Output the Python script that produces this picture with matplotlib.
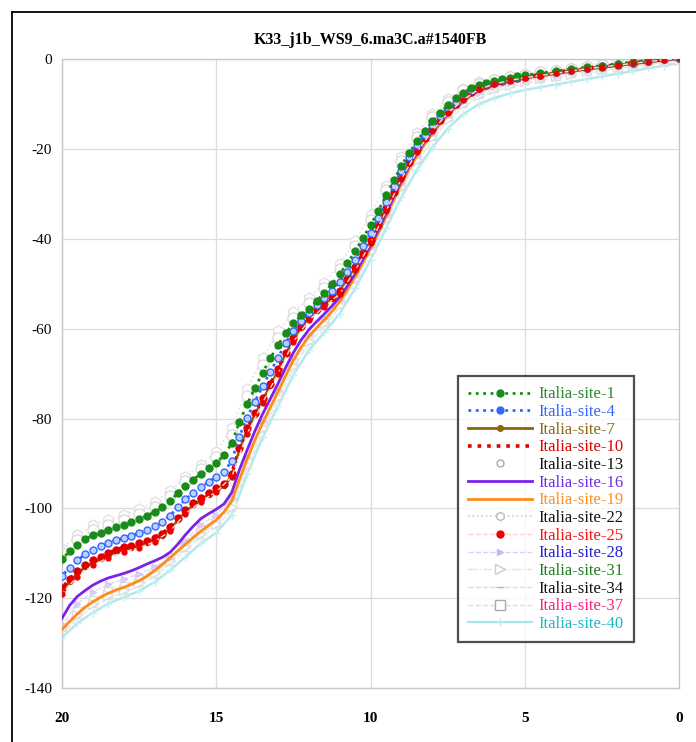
import matplotlib
matplotlib.use("Agg")
import matplotlib.pyplot as plt
from matplotlib.lines import Line2D

plt.rcParams['font.family'] = ['Liberation Serif', 'DejaVu Serif']

TITLE = "K33_j1b_WS9_6.ma3C.a#1540FB"

# x positions of the main (dense) series
X = [0, 0.5, 1, 1.5, 2, 2.5, 3, 3.5, 4, 4.5,
     5, 5.25, 5.5, 5.75, 6, 6.25, 6.5, 6.75, 7, 7.25, 7.5, 7.75, 8, 8.25, 8.5, 8.75,
     9, 9.25, 9.5, 9.75, 10, 10.25, 10.5, 10.75, 11, 11.25, 11.5, 11.75, 12, 12.25,
     12.5, 12.75, 13, 13.25, 13.5, 13.75, 14, 14.25, 14.5, 14.75, 15, 15.25, 15.5,
     15.75, 16, 16.25, 16.5, 16.75, 17, 17.25, 17.5, 17.75, 18, 18.25, 18.5, 18.75,
     19, 19.25, 19.5, 19.75, 20]

site_1 = [0.5, 0.2, -0.2, -0.6, -1.0, -1.4, -1.8, -2.2, -2.6, -3.1,
          -3.5, -3.8, -4.1, -4.4, -4.8, -5.2, -5.7, -6.4, -7.4, -8.7, -10.2, -11.9, -13.8, -15.9, -18.2, -20.8,
          -23.7, -26.9, -30.3, -33.7, -36.9, -39.8, -42.7, -45.4, -47.8, -50.0, -52.0, -53.8, -55.5, -57.0,
          -58.8, -61.0, -63.6, -66.6, -69.8, -73.2, -76.8, -80.8, -85.5, -88.2, -89.8, -91.0, -92.3,
          -93.6, -95.0, -96.6, -98.4, -99.8, -100.8, -101.6, -102.4, -103.1, -103.7, -104.2, -104.8, -105.4,
          -106.0, -106.8, -108.2, -109.6, -111.2]

site_4 = [0.4, 0.1, -0.3, -0.7, -1.1, -1.5, -1.9, -2.3, -2.8, -3.2,
          -3.7, -4.0, -4.3, -4.7, -5.1, -5.5, -6.1, -6.8, -8.0, -9.4, -10.9, -12.7, -14.6, -16.8, -19.1, -21.8,
          -24.9, -28.2, -31.7, -35.3, -38.6, -41.6, -44.6, -47.3, -49.6, -51.5, -53.2, -54.8, -56.4, -58.2,
          -60.4, -63.2, -66.4, -69.6, -72.8, -76.2, -79.8, -84.0, -89.4, -91.9, -93.0, -94.1, -95.3,
          -96.6, -98.0, -99.8, -101.6, -103.0, -104.0, -104.8, -105.5, -106.1, -106.6, -107.1, -107.7, -108.4,
          -109.2, -110.2, -111.6, -113.2, -115.0]

site_7 = [0.2, -0.1, -0.5, -0.9, -1.3, -1.7, -2.1, -2.5, -3.0, -3.5,
          -4.0, -4.3, -4.7, -5.1, -5.5, -6.0, -6.6, -7.5, -8.8, -10.2, -11.8, -13.6, -15.6, -17.8, -20.2, -23.0,
          -26.2, -29.7, -33.4, -37.2, -40.5, -43.4, -46.5, -49.2, -51.7, -53.3, -54.6, -56.0, -57.6, -59.8,
          -62.4, -65.7, -69.4, -72.7, -75.9, -79.2, -82.6, -87.0, -92.8, -95.0, -96.0, -97.0, -98.1,
          -99.3, -100.8, -102.7, -104.7, -106.1, -107.0, -107.7, -108.3, -108.8, -109.2, -109.7, -110.5, -111.3,
          -112.1, -113.1, -114.5, -116.3, -118.3]

site_10 = [0.3, 0.0, -0.4, -0.8, -1.2, -1.6, -2.0, -2.4, -2.9, -3.4,
           -3.9, -4.2, -4.5, -4.9, -5.3, -5.8, -6.4, -7.3, -8.6, -10.0, -11.6, -13.4, -15.4, -17.6, -20.0, -22.8,
           -26.0, -29.5, -33.2, -37.0, -40.3, -43.2, -46.3, -49.0, -51.5, -53.0, -54.3, -55.7, -57.3, -59.4,
           -62.0, -65.3, -69.0, -72.3, -75.5, -78.8, -82.2, -86.5, -92.3, -94.5, -95.5, -96.5, -97.6,
           -98.8, -100.3, -102.2, -104.2, -105.6, -106.5, -107.2, -107.8, -108.3, -108.7, -109.2, -110.0, -110.8,
           -111.6, -112.6, -114.0, -115.8, -117.8]

site_16 = [0.2, -0.1, -0.5, -0.9, -1.3, -1.7, -2.1, -2.6, -3.1, -3.6,
           -4.1, -4.4, -4.8, -5.2, -5.7, -6.2, -6.9, -7.8, -9.0, -10.4, -12.0, -13.9, -16.0, -18.3, -20.8, -23.7,
           -27.0, -30.6, -34.3, -38.0, -41.4, -44.5, -47.6, -50.4, -52.9, -54.9, -56.7, -58.4, -60.2, -62.5,
           -65.3, -68.6, -72.2, -75.6, -79.0, -82.8, -87.0, -91.4, -96.5, -99.0, -100.2, -101.2, -102.3,
           -104.0, -105.9, -108.0, -109.8, -110.9, -111.7, -112.4, -113.2, -113.9, -114.5, -115.0, -115.5, -116.2,
           -117.1, -118.3, -119.6, -121.6, -124.5]

site_19 = [0.1, -0.2, -0.6, -1.0, -1.4, -1.8, -2.2, -2.7, -3.2, -3.7,
           -4.2, -4.6, -5.0, -5.4, -5.9, -6.5, -7.2, -8.1, -9.4, -10.8, -12.5, -14.4, -16.5, -18.9, -21.5, -24.4,
           -27.7, -31.3, -35.0, -38.7, -42.1, -45.3, -48.4, -51.3, -53.9, -56.1, -58.0, -59.8, -61.7, -64.1,
           -67.0, -70.4, -74.0, -77.5, -81.0, -84.8, -89.0, -93.6, -98.4, -100.8, -102.6, -103.8, -105.1,
           -106.5, -108.0, -109.5, -111.0, -112.5, -113.9, -115.1, -116.1, -116.9, -117.6, -118.2, -118.9, -119.8,
           -120.8, -122.0, -123.5, -125.2, -127.0]

# x positions of the pale (sparser) series
X2 = [0, 0.5, 1, 1.5, 2, 2.5, 3, 3.5, 4, 4.5, 5, 5.5, 6, 6.5, 7, 7.5, 8, 8.5, 9, 9.5,
      10, 10.5, 11, 11.5, 12, 12.5, 13, 13.5, 14, 14.5, 15, 15.5, 16, 16.5, 17, 17.5,
      18, 18.5, 19, 19.5, 20]

site_13 = [0.6, 0.3, -0.1, -0.5, -0.9, -1.3, -1.7, -2.1, -2.5, -2.9, -3.4, -3.9, -4.5, -5.4, -6.9,
           -9.4, -12.9, -17.3, -22.7, -29.2, -35.7, -41.5, -46.7, -50.9, -54.3, -57.5, -62.0, -68.1,
           -75.0, -83.7, -88.6, -91.2, -94.0, -97.3, -99.7, -101.3, -102.6, -103.6, -104.9, -107.1, -110.0]
site_22 = [0.8, 0.5, 0.1, -0.3, -0.7, -1.1, -1.5, -1.9, -2.3, -2.8, -3.2, -3.7, -4.3, -5.1, -6.5,
           -8.8, -12.2, -16.5, -21.8, -28.2, -34.6, -40.4, -45.6, -49.8, -53.2, -56.3, -60.6, -66.5,
           -73.4, -82.0, -87.5, -90.3, -93.0, -96.2, -98.6, -100.2, -101.5, -102.5, -103.8, -106.0, -109.0]
site_25 = [0.2, -0.1, -0.5, -0.9, -1.3, -1.7, -2.1, -2.6, -3.1, -3.6, -4.1, -4.7, -5.5, -6.7, -9.0,
           -12.0, -15.9, -20.6, -26.6, -33.8, -40.9, -47.0, -52.2, -55.1, -58.1, -62.9, -70.0, -76.5,
           -83.4, -93.0, -96.3, -98.5, -101.2, -105.1, -107.4, -108.8, -109.7, -111.0, -112.7, -115.2, -119.0]
site_28 = [0.0, -0.3, -0.7, -1.1, -1.5, -2.0, -2.4, -2.9, -3.4, -3.9, -4.5, -5.2, -6.2, -7.4, -9.5,
           -12.6, -16.7, -21.6, -27.6, -34.6, -41.7, -48.0, -53.5, -57.6, -61.4, -66.6, -73.6, -80.5,
           -88.6, -97.8, -101.4, -103.6, -107.2, -111.0, -113.0, -114.6, -115.8, -116.9, -118.6, -121.2, -126.0]
site_31 = [-0.1, -0.4, -0.8, -1.2, -1.7, -2.2, -2.7, -3.2, -3.7, -4.2, -4.8, -5.6, -6.6, -7.9, -10.0,
           -13.2, -17.4, -22.4, -28.5, -35.5, -42.6, -49.0, -54.6, -58.8, -62.8, -68.2, -75.2, -82.2,
           -90.4, -99.6, -103.5, -105.8, -108.7, -111.8, -114.5, -116.6, -118.1, -119.4, -121.3, -123.8, -127.5]
site_34 = [-0.3, -0.7, -1.1, -1.6, -2.1, -2.6, -3.1, -3.6, -4.2, -4.8, -5.4, -6.2, -7.2, -8.5, -10.6,
           -13.8, -18.0, -23.0, -29.1, -36.1, -43.2, -49.6, -55.2, -59.4, -63.4, -68.8, -75.8, -82.8,
           -91.0, -100.3, -104.2, -106.5, -109.4, -112.5, -115.2, -117.3, -118.8, -120.1, -122.0, -124.5, -128.0]
site_37 = [0.0, -0.3, -0.7, -1.1, -1.6, -2.1, -2.6, -3.1, -3.6, -4.1, -4.6, -5.3, -6.2, -7.5, -9.6,
           -12.7, -16.8, -21.7, -27.7, -34.7, -41.8, -48.2, -53.8, -58.0, -62.0, -67.4, -74.4, -81.3,
           -89.5, -98.8, -102.5, -104.7, -107.6, -110.8, -113.4, -115.6, -117.2, -118.5, -120.4, -122.9, -126.5]
site_40 = [-0.8, -1.4, -2.0, -2.6, -3.2, -3.8, -4.4, -5.0, -5.6, -6.2, -6.8, -7.6, -8.6, -10.0, -12.2,
           -15.4, -19.6, -24.6, -30.6, -37.6, -44.6, -51.0, -56.6, -60.8, -64.8, -70.2, -77.2, -84.2,
           -92.4, -101.5, -105.4, -107.8, -110.8, -113.8, -116.4, -118.4, -119.8, -121.2, -123.2, -125.6, -128.8]

LABELS = ["Italia-site-1", "Italia-site-4", "Italia-site-7", "Italia-site-10", "Italia-site-13",
          "Italia-site-16", "Italia-site-19", "Italia-site-22", "Italia-site-25", "Italia-site-28",
          "Italia-site-31", "Italia-site-34", "Italia-site-37", "Italia-site-40"]
TEXT_COLORS = ["#2a8a2a", "#3366ff", "#8b6914", "#e00000", "#111111", "#7030e0", "#ff9020",
               "#111111", "#ff1010", "#2020d0", "#208020", "#111111", "#ff2080", "#20b8c8"]

XTICKS = [20, 15, 10, 5, 0]
YTICKS = [0, -20, -40, -60, -80, -100, -120, -140]

fig = plt.figure(figsize=(6.96, 7.42), dpi=100)
ax = fig.add_axes([0.089, 0.0728, 0.887, 0.8472])

# pale series first (underneath)
ax.plot(X2, site_40, color="#b4e8ee", lw=1.8, ls='-', marker='+', ms=6, mec="#c4f0f4", zorder=2)
ax.plot(X2, site_37, color="#f8dce8", lw=1.0, ls='--', marker='s', ms=6, mfc='white', mec="#dddddd", zorder=2)
ax.plot(X2, site_34, color="#e6e6e6", lw=1.0, ls='--', marker='_', ms=6, mec="#dddddd", zorder=2)
ax.plot(X2, site_31, color="#e0f0e0", lw=1.0, ls='-.', marker='>', ms=7, mfc='white', mec="#dedede", zorder=2)
ax.plot(X2, site_28, color="#e0daf8", lw=1.0, ls='--', marker='>', ms=5, mfc="#e0d4fa", mec="#d4c8f4", zorder=2)
ax.plot(X2, site_22, color="#e4e4e4", lw=1.2, ls=':', marker='h', ms=8, mfc='white', mec="#e2e2e2", zorder=2)
ax.plot(X2, site_13, color="none", ls='None', marker='o', ms=8, mfc='white', mec="#dcdcdc", zorder=2)

# main series
ax.plot(X, site_19, color="#ff8c1a", lw=2.0, ls='-', zorder=3)
ax.plot(X, site_16, color="#7a22ea", lw=2.0, ls='-', zorder=3)
ax.plot(X, site_7, color="#8b6508", lw=2.0, ls='-', marker='o', ms=3, zorder=3)
ax.plot(X, site_10, color="#e00000", lw=2.6, ls=':', marker='o', ms=5, zorder=4)
ax.plot(X, site_4, color="#3366ff", lw=2.0, ls=':', marker='o', ms=5, mfc="#bcd0ff", mec="#3366ff", zorder=4)
ax.plot(X, site_1, color="#1a8a1a", lw=2.0, ls=':', marker='o', ms=5, zorder=4)
ax.plot(X2, site_25, color="#ffd8d8", lw=1.0, ls='--', marker='o', ms=3.5, mfc="#ee0000", mec="#ee0000", zorder=4)

ax.set_xlim(20, 0)
ax.set_ylim(-140, 0)
ax.set_xticks(XTICKS)
ax.set_yticks(YTICKS)
ax.set_xticklabels([str(v) for v in XTICKS], fontsize=11, fontweight='bold')
ax.set_yticklabels([str(v) for v in YTICKS], fontsize=11)
ax.tick_params(length=0, pad=7)
ax.tick_params(axis='x', pad=17)
ax.grid(True, color="#dcdcdc", lw=0.9)
ax.set_axisbelow(True)
for s in ax.spines.values():
    s.set_color("#c8c8c8")
    s.set_linewidth(1.0)

ax.set_title(TITLE, fontsize=11.5, fontweight='bold', pad=11)

# legend handles
handles = [
    Line2D([], [], color="#1a8a1a", lw=2.0, ls=':', marker='o', ms=5),
    Line2D([], [], color="#3366ff", lw=2.0, ls=':', marker='o', ms=5),
    Line2D([], [], color="#8b6508", lw=2.0, ls='-', marker='o', ms=4),
    Line2D([], [], color="#e00000", lw=2.6, ls=':'),
    Line2D([], [], color="none", ls='None', marker='o', ms=5, mfc='white', mec="#aaaaaa"),
    Line2D([], [], color="#7a22ea", lw=2.0, ls='-'),
    Line2D([], [], color="#ff8c1a", lw=2.0, ls='-'),
    Line2D([], [], color="#d0d0d0", lw=1.2, ls=':', marker='h', ms=6, mfc='white', mec="#bbbbbb"),
    Line2D([], [], color="#ffd0d0", lw=1.0, ls='--', marker='o', ms=5, mfc="#ee0000", mec="#ee0000"),
    Line2D([], [], color="#d8d0f5", lw=1.0, ls='--', marker='>', ms=5, mfc="#c8b8f0", mec="#c8b8f0"),
    Line2D([], [], color="#d6ead6", lw=1.0, ls='-.', marker='>', ms=7, mfc='white', mec="#cccccc"),
    Line2D([], [], color="#dddddd", lw=1.0, ls='--', marker='_', ms=6, mec="#bbbbbb"),
    Line2D([], [], color="#f5cfe0", lw=1.0, ls='--', marker='s', ms=7, mfc='white', mec="#aaaaaa"),
    Line2D([], [], color="#a8e4ea", lw=1.6, ls='-', marker='+', ms=6, mec="#b8ecf0"),
]
leg = ax.legend(handles, LABELS, loc='lower left', bbox_to_anchor=(0.642, 0.073),
                fontsize=12, frameon=True, fancybox=False, handlelength=3.8,
                handletextpad=0.4, labelspacing=0.1, borderpad=0.6, borderaxespad=0)
leg.get_frame().set_edgecolor("#222222")
leg.get_frame().set_linewidth(1.6)
for t, c in zip(leg.get_texts(), TEXT_COLORS):
    t.set_color(c)

# outer frame (left and top edges)
fig.add_artist(Line2D([12/696, 12/696], [0, 1 - 12/742], transform=fig.transFigure, color='black', lw=1.3))
fig.add_artist(Line2D([12/696, 1], [1 - 12/742, 1 - 12/742], transform=fig.transFigure, color='black', lw=1.3))

fig.savefig("out.png", dpi=100)
